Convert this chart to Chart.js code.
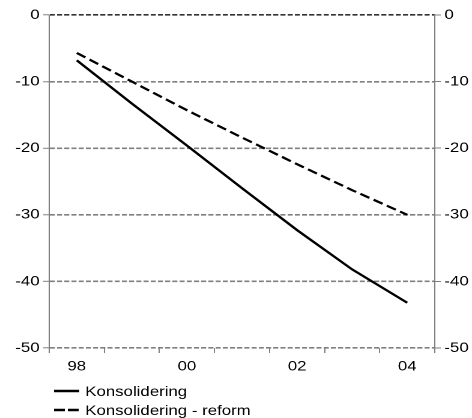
<!DOCTYPE html>
<html>
<head>
<meta charset="utf-8">
<script src="https://cdn.jsdelivr.net/npm/chart.js@4/dist/chart.umd.min.js"></script>
<style>
    html, body { margin: 0; padding: 0; background: #fff; overflow: hidden; }
    /* the original picture is a bit stretched sideways, so draw narrow and widen */
    #wrap { width: 393px; height: 418px; transform: scaleX(1.201); transform-origin: 0 0; }
</style>
</head>
<body>
<div id="wrap"><canvas id="myChart"></canvas></div>
<script>
// Data
let years = ['98', '99', '00', '01', '02', '03', '04']
let tickLabels = ['98', '', '00', '', '02', '', '04']
let konsolidering = [-6.8, -13.3, -19.6, -26.0, -32.3, -38.2, -43.2]
let konsReform = [-5.7, -10.0, -14.3, -18.4, -22.4, -26.3, -30.0]
let seriesNames = ['Konsolidering', 'Konsolidering - reform']
let yMin = -50, yMax = 0, yStep = 10

let fontFam = '"Liberation Sans", Arial, sans-serif'
let fontSize = 14

// legend lines under the chart, one per row
const bottomLegend = {
    id: 'bottomLegend',
    afterDraw(chart) {
        let ctx = chart.ctx
        ctx.save()
        chart.data.datasets.forEach((ds, i) => {
            let y = 391 + i * 19
            ctx.beginPath()
            ctx.strokeStyle = '#000'
            ctx.lineWidth = 2.5
            ctx.setLineDash(i == 0 ? [] : [9, 2.5])
            ctx.moveTo(45, y)
            ctx.lineTo(66, y)
            ctx.stroke()
            ctx.setLineDash([])
            ctx.fillStyle = '#000'
            ctx.font = fontSize + 'px ' + fontFam
            ctx.textBaseline = 'middle'
            ctx.fillText(ds.label, 71, y + 1)
        })
        ctx.restore()
    }
}

let ctx = document.getElementById('myChart').getContext('2d');
let myChart = new Chart(ctx, {
    type: 'line',
    data: {
        labels: years,
        datasets: [{
            label: seriesNames[0],
            data: konsolidering,
            borderColor: '#000',
            borderWidth: 2.2,
            pointRadius: 0,
            yAxisID: 'y'
        }, {
            label: seriesNames[1],
            data: konsReform,
            borderColor: '#000',
            borderWidth: 2.2,
            borderDash: [8.5, 4],
            pointRadius: 0,
            yAxisID: 'y'
        }]
    },
    options: {
        responsive: true,
        maintainAspectRatio: false,
        animation: false,
        devicePixelRatio: 2,
        layout: { padding: { top: 15, left: 0, right: 0, bottom: 0 } },
        plugins: {
            legend: { display: false },
            tooltip: { enabled: false }
        },
        scales: {
            x: {
                offset: true,
                grid: { offset: true, drawOnChartArea: false, tickLength: 5, color: '#808080' },
                border: { display: false },
                ticks: {
                    autoSkip: false, maxRotation: 0, padding: 5, color: '#000',
                    font: { family: fontFam, size: fontSize },
                    callback: (v, i) => tickLabels[i]
                },
                afterFit: s => { s.height = 70 }
            },
            y: {
                position: 'left',
                min: yMin, max: yMax,
                ticks: { stepSize: yStep, padding: 3, color: '#000', font: { family: fontFam, size: fontSize } },
                grid: {
                    color: c => c.tick && c.tick.value == 0 ? '#333' : '#808080',
                    lineWidth: 1.6,
                    tickColor: '#808080', tickLength: 5, tickWidth: 1
                },
                border: { color: '#808080', dash: [4.2, 1.8] },
                afterFit: s => { s.width = 41 }
            },
            y2: {
                position: 'right',
                min: yMin, max: yMax,
                ticks: { stepSize: yStep, padding: 3, color: '#000', font: { family: fontFam, size: fontSize } },
                grid: { drawOnChartArea: false, tickColor: '#808080', tickLength: 5, tickWidth: 1 },
                border: { color: '#808080' },
                afterFit: s => { s.width = 31 }
            }
        }
    },
    plugins: [bottomLegend]
});
</script>
</body>
</html>
